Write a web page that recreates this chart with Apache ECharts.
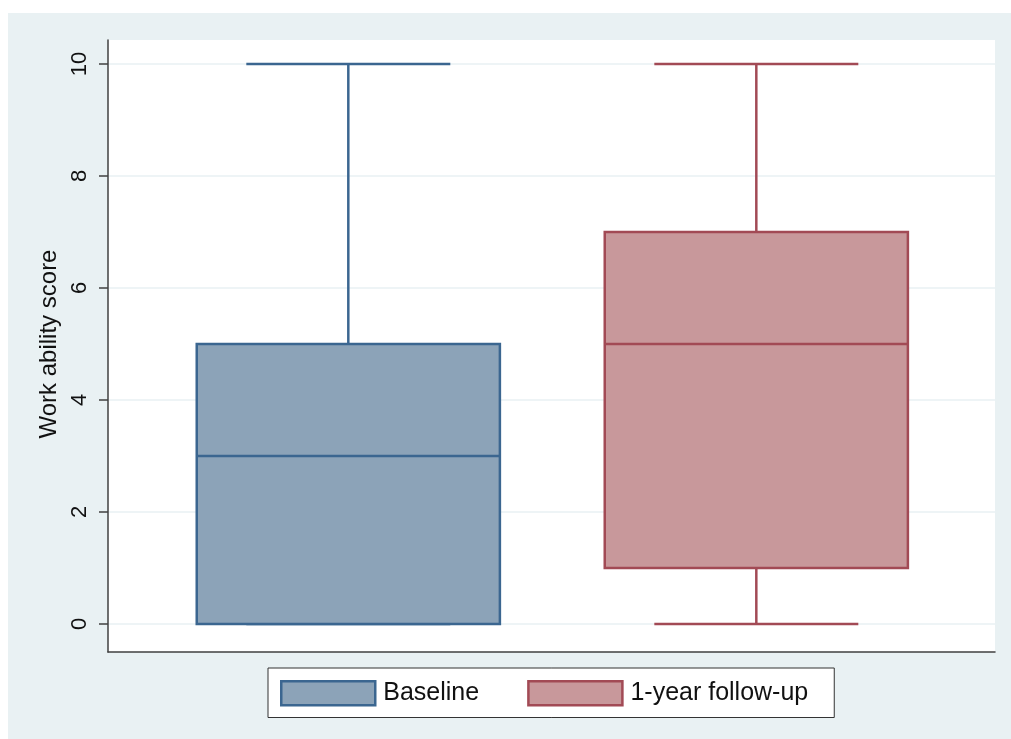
<!DOCTYPE html>
<html>
<head>
<meta charset="utf-8">
<script src="https://cdn.jsdelivr.net/npm/echarts@6/dist/echarts.min.js"></script>
<style>
  html, body { margin: 0; padding: 0; background: #fff; }
  #bg { position: absolute; left: 8px; top: 13px; width: 1003px; height: 726px; background: #e9f1f3; }
  #chart { position: absolute; left: 0; top: 0; width: 1011px; height: 739px; }
</style>
</head>
<body>
<div id="bg"></div>
<div id="chart"></div>
<script>
// box summaries: [min, Q1, median, Q3, max]
var groups = ["Baseline", "1-year follow-up"];
var baseline = [0, 0, 3, 5, 10];
var followUp = [0, 1, 5, 7, 10];
var yTicks = [0, 2, 4, 6, 8, 10];

var fills = ["#8ca3b8", "#c8989b"];
var strokes = ["#3b6690", "#a24a55"];

var BOX_W = 0.743;
var CAP_W = 0.5;

function renderBox(params, api) {
  var x = api.value(0);
  var lo = api.coord([x, api.value(1)]);
  var q1 = api.coord([x, api.value(2)]);
  var med = api.coord([x, api.value(3)]);
  var q3 = api.coord([x, api.value(4)]);
  var hi = api.coord([x, api.value(5)]);
  var bw = api.size([BOX_W, 0])[0];
  var cw = api.size([CAP_W, 0])[0];
  var cx = lo[0];
  var stroke = strokes[params.seriesIndex];
  var fill = fills[params.seriesIndex];
  var lineStyle = { stroke: stroke, lineWidth: 2.5 };
  function line(x1, y1, x2, y2) {
    return { type: "line", shape: { x1: x1, y1: y1, x2: x2, y2: y2 }, style: lineStyle };
  }
  return {
    type: "group",
    children: [
      line(cx, q3[1], cx, hi[1]),
      line(cx - cw / 2, hi[1], cx + cw / 2, hi[1]),
      line(cx, q1[1], cx, lo[1]),
      line(cx - cw / 2, lo[1], cx + cw / 2, lo[1]),
      {
        type: "rect",
        shape: { x: cx - bw / 2, y: q3[1], width: bw, height: q1[1] - q3[1] },
        style: { fill: fill, stroke: stroke, lineWidth: 2.5 }
      },
      line(cx - bw / 2, med[1], cx + bw / 2, med[1])
    ]
  };
}

var chart = echarts.init(document.getElementById("chart"));

var option = {
  backgroundColor: "transparent",
  textStyle: { fontFamily: "Liberation Sans, Arial, sans-serif" },
  grid: [
    { left: 108, right: 16, top: 40, bottom: 87, show: true, backgroundColor: "#fff", borderWidth: 0 },
    { left: 108, right: 16, top: 64, bottom: 115 }
  ],
  xAxis: [
    {
      gridIndex: 0, type: "value", min: -0.589, max: 1.585,
      axisLine: { show: true, onZero: false, lineStyle: { color: "#404040", width: 1.5 } },
      axisTick: { show: false }, axisLabel: { show: false }, splitLine: { show: false }
    },
    {
      gridIndex: 1, type: "value", min: -0.589, max: 1.585, show: false,
      axisLine: { onZero: false }
    }
  ],
  yAxis: [
    {
      gridIndex: 0, type: "value", min: -0.48, max: 10.43,
      axisLine: { show: true, onZero: false, lineStyle: { color: "#404040", width: 1.5 } },
      axisTick: { show: false }, axisLabel: { show: false }, splitLine: { show: false }
    },
    {
      gridIndex: 1, type: "value", min: yTicks[0], max: yTicks[yTicks.length - 1], interval: 2,
      name: "Work ability score",
      nameLocation: "middle",
      nameGap: 41,
      nameTextStyle: { fontSize: 24, color: "#111" },
      axisLine: { show: false, onZero: false },
      axisTick: { show: true, length: 9, lineStyle: { color: "#404040", width: 1.5 } },
      axisLabel: { rotate: 90, margin: 17, fontSize: 22, color: "#111" },
      splitLine: { show: true, lineStyle: { color: "#e9f1f3", width: 1.5 } }
    }
  ],
  legend: {
    left: 268,
    top: 668,
    orient: "horizontal",
    padding: [12, 26, 11, 12],
    itemGap: 48,
    itemWidth: 94,
    itemHeight: 24,
    backgroundColor: "#fff",
    borderColor: "#333",
    borderWidth: 1,
    borderRadius: 0,
    selectedMode: false,
    textStyle: { fontSize: 25, color: "#111", padding: [0, 0, 0, 3] },
    data: groups.map(function (g, i) {
      return {
        name: g,
        icon: "rect",
        itemStyle: { color: fills[i], borderColor: strokes[i], borderWidth: 2.5 }
      };
    })
  },
  series: [
    {
      name: groups[0], type: "custom", xAxisIndex: 1, yAxisIndex: 1,
      itemStyle: { color: fills[0], borderColor: strokes[0] },
      renderItem: renderBox,
      data: [[0].concat(baseline)]
    },
    {
      name: groups[1], type: "custom", xAxisIndex: 1, yAxisIndex: 1,
      itemStyle: { color: fills[1], borderColor: strokes[1] },
      renderItem: renderBox,
      data: [[1].concat(followUp)]
    }
  ]
};

chart.setOption(option);
</script>
</body>
</html>
